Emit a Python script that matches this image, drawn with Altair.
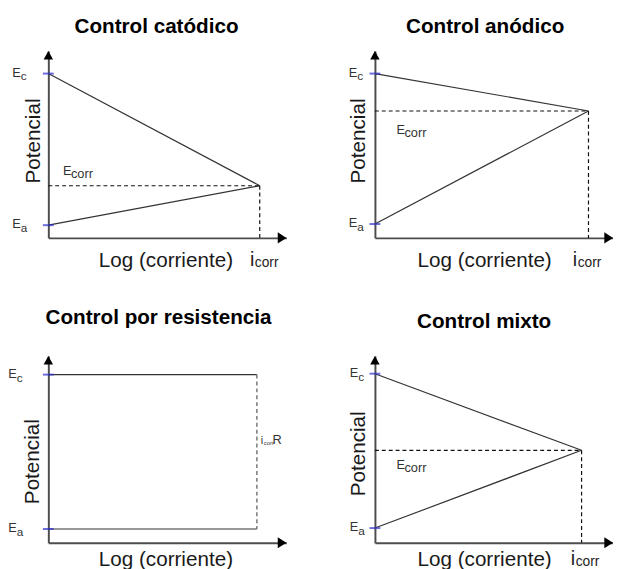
import altair as alt
import pandas as pd

# ---- data ----
TITLES = ["Control catódico", "Control anódico", "Control por resistencia", "Control mixto"]
E_C = [8.79, 8.79, 9.0, 9.05]        # cathodic equilibrium potential (axis units)
E_A = [0.68, 0.74, 0.74, 0.79]       # anodic equilibrium potential
E_CORR = [2.79, 6.79, None, 4.95]    # corrosion potential
I_CORR = [8.88, 8.97, 8.76, 8.68]    # log corrosion current
X_LABEL = "Log (corriente)"
Y_LABEL = "Potencial"
X_MAX = 10
Y_MAX = 10

W, H = 242, 190
FONT = "Liberation Sans"

STYLE = [
    dict(lab_dx=-28, ec_dx=15, ec_dy=-11, ic_dx=-10, ic_dy=29, t_dx=-11, t_off=-3, xpad=29, tX=119, ypad=9, tY=91),
    dict(lab_dx=-18, ec_dx=22, ec_dy=23, ic_dx=-16, ic_dy=29, t_dx=-9, t_off=-3, xpad=29, tX=111, ypad=11, tY=91),
    dict(lab_dx=-32, ic_dx=4, ic_dy=-8, t_dx=-9, t_off=11, xpad=23, tX=119, ypad=10, tY=107),
    dict(lab_dx=-17, ec_dx=22, ec_dy=19, ic_dx=-11, ic_dy=23, t_dx=-10, t_off=7, xpad=23, tX=111, ypad=11, tY=99),
]

UP = "M0,0L-1.2,2.2L1.2,2.2Z"
RIGHT = "M0,0L-2.2,-1.4L-2.2,1.4Z"


def panel(k):
    st = STYLE[k]
    ec, ea, ecorr, ic = E_C[k], E_A[k], E_CORR[k], I_CORR[k]
    xs = alt.Scale(domain=[0, X_MAX], nice=False, zero=False)
    ys = alt.Scale(domain=[0, Y_MAX], nice=False, zero=False)
    xax = alt.Axis(title=X_LABEL, labels=False, ticks=False, grid=False,
                   domainColor="#4d4d4d", domainWidth=2, titleFont=FONT,
                   titleFontSize=21, titleFontWeight="normal", titleColor="#1a1a1a",
                   titleBaseline="alphabetic", titlePadding=st["xpad"], titleX=st["tX"])
    yax = alt.Axis(title=Y_LABEL, labels=False, ticks=False, grid=False,
                   domainColor="#4d4d4d", domainWidth=2, titleFont=FONT,
                   titleFontSize=21, titleFontWeight="normal", titleColor="#1a1a1a",
                   titleBaseline="alphabetic", titlePadding=st["ypad"], titleY=st["tY"])

    def X(f):
        return alt.X(f, type="quantitative", scale=xs, axis=xax)

    def Y(f):
        return alt.Y(f, type="quantitative", scale=ys, axis=yax)

    if ecorr is not None:
        solid = pd.DataFrame({"x": [0, 0], "y": [ec, ea], "x2": [ic, ic], "y2": [ecorr, ecorr]})
        dashed = pd.DataFrame({"x": [0, ic], "y": [ecorr, ecorr], "x2": [ic, ic], "y2": [ecorr, 0]})
        dash_color, dash_w = "#111111", 1.2
    else:
        solid = pd.DataFrame({"x": [0, 0], "y": [ec, ea], "x2": [ic, ic], "y2": [ec, ea]})
        dashed = pd.DataFrame({"x": [ic], "y": [ec], "x2": [ic], "y2": [ea]})
        dash_color, dash_w = "#777777", 1.5

    layers = []
    layers.append(alt.Chart(solid).mark_rule(color="#333333", strokeWidth=1.2).encode(
        x=X("x"), y=Y("y"), x2="x2", y2="y2"))
    layers.append(alt.Chart(dashed).mark_rule(color=dash_color, strokeWidth=dash_w, strokeDash=[4, 3]).encode(
        x=X("x"), y=Y("y"), x2="x2", y2="y2"))

    eq = pd.DataFrame({"x": [0, 0], "y": [ec, ea], "main": ["E", "E"], "sub": ["c", "a"]})
    layers.append(alt.Chart(eq).mark_tick(orient="horizontal", color="#2f2fcf", thickness=2, size=11).encode(
        x=X("x"), y=Y("y")))
    layers.append(alt.Chart(eq).mark_text(align="right", baseline="alphabetic", dx=st["lab_dx"], dy=3,
                                          font=FONT, fontSize=13, color="#333333").encode(
        x=X("x"), y=Y("y"), text="main"))
    layers.append(alt.Chart(eq).mark_text(align="left", baseline="alphabetic", dx=st["lab_dx"], dy=7,
                                          font=FONT, fontSize=12, color="#333333").encode(
        x=X("x"), y=Y("y"), text="sub"))

    if ecorr is not None:
        ecd = pd.DataFrame({"x": [0], "y": [ecorr], "main": ["E"], "sub": ["corr"]})
        layers.append(alt.Chart(ecd).mark_text(align="left", baseline="alphabetic", dx=st["ec_dx"], dy=st["ec_dy"],
                                               font=FONT, fontSize=13, color="#333333").encode(
            x=X("x"), y=Y("y"), text="main"))
        layers.append(alt.Chart(ecd).mark_text(align="left", baseline="alphabetic", dx=st["ec_dx"] + 8,
                                               dy=st["ec_dy"] + 3, font=FONT, fontSize=13, color="#333333").encode(
            x=X("x"), y=Y("y"), text="sub"))
        icd = pd.DataFrame({"x": [ic], "y": [0], "main": ["i"], "sub": ["corr"]})
        layers.append(alt.Chart(icd).mark_text(align="left", baseline="alphabetic", dx=st["ic_dx"], dy=st["ic_dy"],
                                               font=FONT, fontSize=20, color="#222222").encode(
            x=X("x"), y=Y("y"), text="main"))
        layers.append(alt.Chart(icd).mark_text(align="left", baseline="alphabetic", dx=st["ic_dx"] + 5,
                                               dy=st["ic_dy"] + 1, font=FONT, fontSize=14, color="#222222").encode(
            x=X("x"), y=Y("y"), text="sub"))
    else:
        mid = (ec + ea) / 2
        ird = pd.DataFrame({"x": [ic], "y": [mid], "i": ["i"], "sub": ["corr"], "r": ["R"]})
        layers.append(alt.Chart(ird).mark_text(align="left", baseline="alphabetic", dx=st["ic_dx"], dy=st["ic_dy"],
                                               font=FONT, fontSize=11, color="#333333").encode(
            x=X("x"), y=Y("y"), text="i"))
        layers.append(alt.Chart(ird).mark_text(align="left", baseline="alphabetic", dx=st["ic_dx"] + 3,
                                               dy=st["ic_dy"] + 1, font=FONT, fontSize=6, color="#333333").encode(
            x=X("x"), y=Y("y"), text="sub"))
        layers.append(alt.Chart(ird).mark_text(align="left", baseline="alphabetic", dx=st["ic_dx"] + 12,
                                               dy=st["ic_dy"], font=FONT, fontSize=13, color="#333333").encode(
            x=X("x"), y=Y("y"), text="r"))

    up = pd.DataFrame({"x": [0], "y": [Y_MAX]})
    rt = pd.DataFrame({"x": [X_MAX], "y": [0]})
    layers.append(alt.Chart(up).mark_point(shape=UP, filled=True, size=64, color="black", opacity=1).encode(
        x=X("x"), y=Y("y")))
    layers.append(alt.Chart(rt).mark_point(shape=RIGHT, filled=True, size=64, color="black", opacity=1).encode(
        x=X("x"), y=Y("y")))

    return alt.layer(*layers).properties(
        width=W, height=H,
        title=alt.TitleParams(TITLES[k], font=FONT, fontSize=21, fontWeight="bold", color="black",
                              anchor="middle", frame="group", dx=st["t_dx"], offset=st["t_off"],
                              baseline="alphabetic"),
    )


chart = alt.concat(
    *[panel(k) for k in range(4)],
    columns=2,
    spacing={"row": 120, "column": 90},
    bounds="flush",
).configure_view(stroke=None).properties(
    padding={"left": 0, "top": 4, "right": 0, "bottom": 0}
)

chart.save("out.html", embed_options={"renderer": "svg", "actions": False})
